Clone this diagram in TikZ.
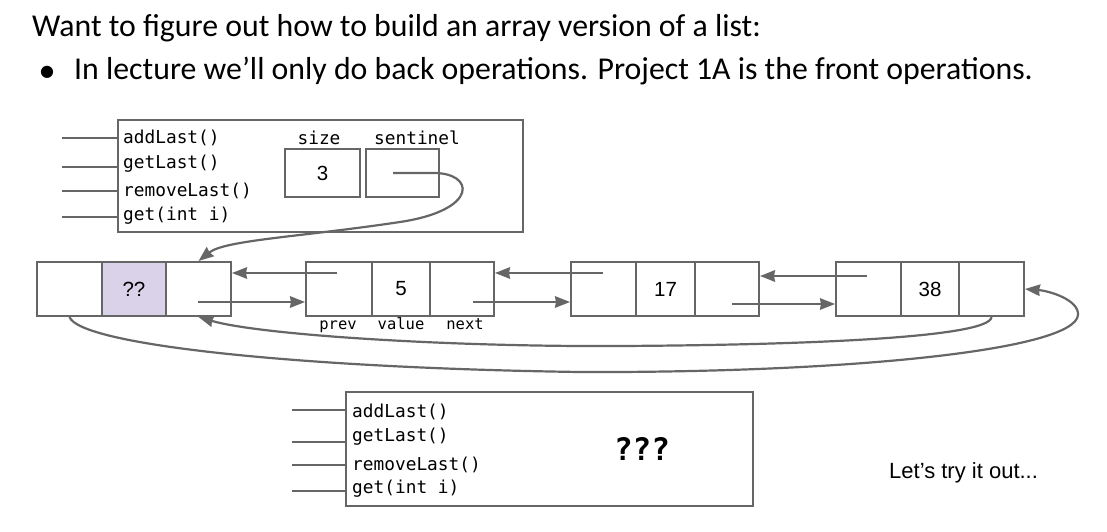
\documentclass[tikz,border=0pt]{standalone}
\usepackage{fontspec}
\setmainfont{Carlito}
\setmonofont{DejaVu Sans Mono}
\newfontfamily\arialf{Liberation Sans}
\newfontfamily\dejavuf{DejaVu Sans}
\usetikzlibrary{arrows.meta}
\definecolor{linegray}{HTML}{666666}
\definecolor{lav}{HTML}{D9D2E9}
\begin{document}
\begin{tikzpicture}[x=1pt,y=-1pt,
  cell/.style={draw=linegray, line width=2pt, minimum height=54pt, inner sep=0pt, font=\arialf\fontsize{20.5}{24}\selectfont},
  box/.style={draw=linegray, line width=2pt, inner sep=0pt},
  ptr/.style={draw=linegray, line width=2.2pt, -{Stealth[length=15pt,width=11.5pt,inset=1pt]}},
  wire/.style={draw=linegray, line width=2pt},
  meth/.style={anchor=base west, inner sep=0pt, font=\ttfamily\fontsize{17.8}{20}\selectfont},
  lbl/.style={anchor=base, inner sep=0pt, font=\ttfamily\fontsize{17.8}{20}\selectfont},
  sublbl/.style={anchor=base, inner sep=0pt, font=\ttfamily\fontsize{15.5}{18}\selectfont},
  title/.style={anchor=base west, inner sep=0pt, font=\fontsize{31.8}{36}\selectfont},
]
\useasboundingbox[fill=white] (0,0) rectangle (1107,532);

% title
\node[title] (t1) at (32,37) {Want to figure out how to build an array version of a list:};
\node[inner sep=0pt, font=\dejavuf\fontsize{16}{16}\selectfont] (bul) at (47,72) {●};
\node[title] (t2) at (74,80) {In lecture we’ll only do back operations. Project 1A is the front operations.};

% top API box
\node[box, minimum width=405pt, minimum height=112pt] (api) at (320.5,176) {};
\node[meth] (m1) at (123,143) {addLast()};
\node[meth] (m2) at (123,168) {getLast()};
\node[meth] (m3) at (123,196) {removeLast()};
\node[meth] (m4) at (123,220) {get(int i)};
\coordinate (w1) at (62,138);
\coordinate (w2) at (62,167);
\coordinate (w3) at (62,191);
\coordinate (w4) at (62,217);
\foreach \w in {w1,w2,w3,w4} \draw[wire] (\w) -- (\w -| api.west);

\node[lbl] (szl) at (319,144) {size};
\node[lbl] (snl) at (417,144) {sentinel};
\node[box, minimum width=75pt, minimum height=48pt, font=\arialf\fontsize{20.5}{24}\selectfont] (sz) at (322.5,173) {3};
\node[box, minimum width=73pt, minimum height=48pt] (sn) at (402.5,173) {};

% sentinel node
\node[cell, minimum width=65pt] (s1) at (69.5,289) {};
\node[cell, minimum width=64pt, fill=lav] (s2) at (134,289) {??};
\node[cell, minimum width=65pt] (s3) at (198.5,289) {};
% node 5
\node[cell, minimum width=66pt] (f1) at (339,289) {};
\node[cell, minimum width=58pt] (f2) at (401,289) {5};
\node[cell, minimum width=64pt] (f3) at (462,289) {};
\node[sublbl] (lp) at (338,329) {prev};
\node[sublbl] (lv) at (401,329) {value};
\node[sublbl] (ln) at (465,329) {next};
% node 17
\node[cell, minimum width=65pt] (g1) at (603.5,289) {};
\node[cell, minimum width=59pt] (g2) at (665.5,289) {17};
\node[cell, minimum width=64pt] (g3) at (727,289) {};
% node 38
\node[cell, minimum width=65pt] (h1) at (868.5,289) {};
\node[cell, minimum width=58pt] (h2) at (930,289) {38};
\node[cell, minimum width=65pt] (h3) at (991.5,289) {};

% sentinel pointer
\coordinate (snp) at (393,173);
\draw[ptr] (snp) -- (432,173) .. controls (475,172) and (480,210) .. (400,222) .. controls (300,237) and (225,240) .. (s3.north);

% prev / next pointers
\coordinate (pf) at (337,273);
\draw[ptr] (pf) -- (pf -| s3.east);
\coordinate (ns) at (198,302);
\draw[ptr] (ns) -- (ns -| f1.west);
\coordinate (nf) at (473,302);
\draw[ptr] (nf) -- (nf -| g1.west);
\coordinate (pg) at (603,273);
\draw[ptr] (pg) -- (pg -| f3.east);
\coordinate (ng) at (732,304);
\draw[ptr] (ng) -- (ng -| h1.west);
\coordinate (ph) at (867,276);
\draw[ptr] (ph) -- (ph -| g3.east);

% wrap-around pointers
\draw[ptr] (h3.south) .. controls (990,338) and (800,345) .. (620,346) .. controls (450,347) and (260,335) .. (s3.south);
\draw[ptr] (s1.south) .. controls (80,345) and (300,368) .. (580,372) .. controls (850,373) and (1075,350) .. (1078,315) .. controls (1079,300) and (1050,291) .. (h3.east);

% bottom API box
\node[box, minimum width=407pt, minimum height=114pt] (arr) at (549.5,449) {};
\node[meth] (b1) at (352,417) {addLast()};
\node[meth] (b2) at (352,441) {getLast()};
\node[meth] (b3) at (352,470) {removeLast()};
\node[meth] (b4) at (352,493) {get(int i)};
\coordinate (v1) at (292,410);
\coordinate (v2) at (292,442);
\coordinate (v3) at (292,465);
\coordinate (v4) at (292,491);
\foreach \v in {v1,v2,v3,v4} \draw[wire] (\v) -- (\v -| arr.west);
\node[inner sep=0pt, font=\ttfamily\bfseries\fontsize{31}{34}\selectfont] (qq) at (642,449) {???};

\node[anchor=base west, inner sep=0pt, font=\arialf\fontsize{22}{26}\selectfont] (try) at (889,478) {Let’s try it out...};
\end{tikzpicture}
\end{document}
